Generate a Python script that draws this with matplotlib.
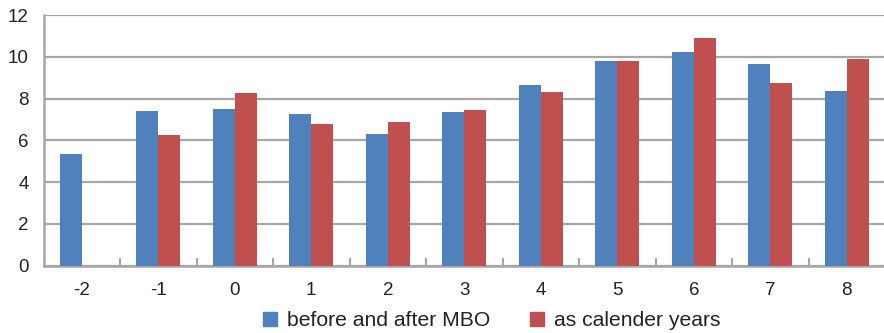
import numpy as np
import matplotlib.pyplot as plt
from matplotlib.patches import Patch

# Years relative to MBO
years = ['-2', '-1', '0', '1', '2', '3', '4', '5', '6', '7', '8']
before_after_mbo = [5.35, 7.41, 7.50, 7.26, 6.30, 7.36, 8.65, 9.80, 10.23, 9.65, 8.36]
calender_years = [np.nan, 6.26, 8.27, 6.78, 6.88, 7.45, 8.31, 9.80, 10.90, 8.74, 9.89]

blue = '#4F81BD'
red = '#C0504D'
grid_col = '#A6A6A6'

plt.rcParams['font.family'] = ['Liberation Sans', 'DejaVu Sans']
plt.rcParams['font.size'] = 13.5

fig = plt.figure(figsize=(8.84, 3.33), dpi=100)
ax = fig.add_axes([43.5 / 884, 67.3 / 333, 841.5 / 884, 250.7 / 333])

x = np.arange(len(years))
w = 0.2876
ax.bar(x - w / 2, before_after_mbo, w, color=blue, zorder=3)
ax.bar(x + w / 2, calender_years, w, color=red, zorder=3)

ax.set_xlim(-0.5, len(years) - 0.5)
ax.set_ylim(0, 12)
ax.set_yticks(np.arange(0, 13, 2))
ax.yaxis.grid(True, color=grid_col, linewidth=1.6, zorder=0)
ax.set_axisbelow(True)

ax.set_xticks(x)
ax.set_xticklabels(years)
ax.set_xticks(np.arange(0.5, len(years) - 1, 1), minor=True)
ax.tick_params(axis='x', which='major', length=0, pad=12, labelcolor='#222222')
ax.tick_params(axis='x', which='minor', direction='in', length=6, width=1.5, color=grid_col)
ax.tick_params(axis='y', length=0, pad=10.5, labelcolor='#222222')

for side in ['top', 'right']:
    ax.spines[side].set_visible(False)
for side in ['left', 'bottom']:
    ax.spines[side].set_color(grid_col)
    ax.spines[side].set_linewidth(1.8)

handles = [Patch(color=blue, label='before and after MBO'),
           Patch(color=red, label='as calender years')]
fig.legend(handles=handles, loc='center', bbox_to_anchor=(0.5566, 0.037), ncol=2,
           frameon=False, handlelength=0.62, handleheight=0.62,
           handletextpad=0.5, columnspacing=1.9, fontsize=15.2,
           labelcolor='#222222')

fig.savefig('out.png', dpi=100)
